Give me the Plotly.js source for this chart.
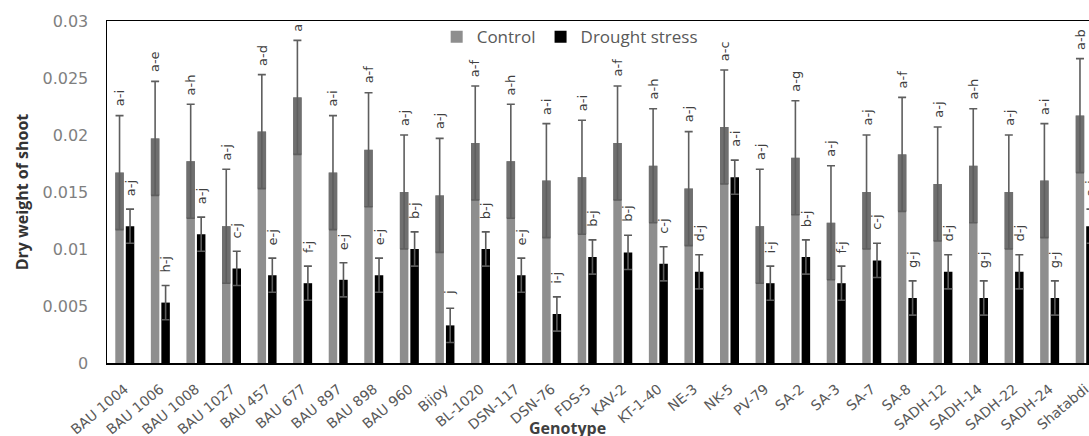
<!DOCTYPE html>
<html>
<head>
<meta charset="utf-8">
<script src="https://cdn.plot.ly/plotly-3.0.1.min.js"></script>
<style>
  html, body { margin: 0; padding: 0; overflow: hidden; background: #fff; }
  #chart { width: 1113px; height: 436px; }
</style>
</head>
<body>
<div id="chart"></div>
<script>
// Shoot dry weight of genotypes under control and drought stress
const genotypes = ["BAU 1004", "BAU 1006", "BAU 1008", "BAU 1027", "BAU 457", "BAU 677", "BAU 897",
  "BAU 898", "BAU 960", "Bijoy", "BL-1020", "DSN-117", "DSN-76", "FDS-5", "KAV-2", "KT-1-40",
  "NE-3", "NK-5", "PV-79", "SA-2", "SA-3", "SA-7", "SA-8", "SADH-12", "SADH-14", "SADH-22",
  "SADH-24", "Shatabdi"];

const controlMean = [0.0167, 0.0197, 0.0177, 0.0120, 0.0203, 0.0233, 0.0167,
  0.0187, 0.0150, 0.0147, 0.0193, 0.0177, 0.0160, 0.0163, 0.0193, 0.0173,
  0.0153, 0.0207, 0.0120, 0.0180, 0.0123, 0.0150, 0.0183, 0.0157, 0.0173, 0.0150,
  0.0160, 0.0217];
const controlErr = [0.005, 0.005, 0.005, 0.005, 0.005, 0.005, 0.005,
  0.005, 0.005, 0.005, 0.005, 0.005, 0.005, 0.005, 0.005, 0.005,
  0.005, 0.005, 0.005, 0.005, 0.005, 0.005, 0.005, 0.005, 0.005, 0.005,
  0.005, 0.005];

const droughtMean = [0.0120, 0.0053, 0.0113, 0.0083, 0.0077, 0.0070, 0.0073,
  0.0077, 0.0100, 0.0033, 0.0100, 0.0077, 0.0043, 0.0093, 0.0097, 0.0087,
  0.0080, 0.0163, 0.0070, 0.0093, 0.0070, 0.0090, 0.0057, 0.0080, 0.0057, 0.0080,
  0.0057, 0.0120];
const droughtErr = [0.0015, 0.0015, 0.0015, 0.0015, 0.0015, 0.0015, 0.0015,
  0.0015, 0.0015, 0.0015, 0.0015, 0.0015, 0.0015, 0.0015, 0.0015, 0.0015,
  0.0015, 0.0015, 0.0015, 0.0015, 0.0015, 0.0015, 0.0015, 0.0015, 0.0015, 0.0015,
  0.0015, 0.0015];

// Significance groupings
const controlLetters = ["a-i", "a-e", "a-h", "a-j", "a-d", "a", "a-i",
  "a-f", "a-j", "a-j", "a-f", "a-h", "a-i", "a-i", "a-f", "a-h",
  "a-j", "a-c", "a-j", "a-g", "a-j", "a-j", "a-f", "a-j", "a-h", "a-j",
  "a-i", "a-b"];
const droughtLetters = ["a-j", "h-j", "a-j", "c-j", "e-j", "f-j", "e-j",
  "e-j", "b-j", "j", "b-j", "e-j", "i-j", "b-j", "b-j", "c-j",
  "d-j", "a-i", "i-j", "b-j", "f-j", "c-j", "g-j", "d-j", "g-j", "d-j",
  "g-j", "a-j"];

const W = 1113, H = 436;
const M = { l: 107, r: 10, t: 21, b: 73 };
const BARGAP = 0.41, GROUPGAP = 0.19;

// lower portion of each control bar covered by the error range
const controlBandBase = controlMean.map((v, i) => v - controlErr[i]);
const controlBandSize = controlErr.slice();

const traces = [
  {
    type: "bar", name: "Control", x: genotypes, y: controlMean,
    offsetgroup: "c", marker: { color: "#8e8e8e" }, hoverinfo: "x+y"
  },
  {
    type: "bar", name: "Control range", showlegend: false, x: genotypes,
    y: controlBandSize, base: controlBandBase, offsetgroup: "c",
    marker: { color: "#6f6f6f" }, hoverinfo: "skip",
    error_y: { type: "data", array: controlErr, visible: true, color: "#5e5e5e", thickness: 1.6, width: 4 }
  },
  {
    type: "bar", name: "Drought stress", x: genotypes, y: droughtMean,
    offsetgroup: "d", marker: { color: "#000000" }, hoverinfo: "x+y",
    error_y: { type: "data", array: droughtErr, visible: true, color: "#5a5a5a", thickness: 1.6, width: 4 }
  }
];

// Letters above the error bars, centred on their own bar
const plotW = W - M.l - M.r;
const catW = plotW / genotypes.length;
const slot = (1 - BARGAP) * catW / 2;
const annotations = [];
genotypes.forEach((g, i) => {
  annotations.push({
    x: g, y: controlMean[i] + controlErr[i], xref: "x", yref: "y",
    text: controlLetters[i], showarrow: false, textangle: -90,
    xanchor: "center", yanchor: "bottom", xshift: -slot / 2, yshift: 7,
    font: { family: "DejaVu Sans", size: 13, color: "#404040" }
  });
  annotations.push({
    x: g, y: droughtMean[i] + droughtErr[i], xref: "x", yref: "y",
    text: droughtLetters[i], showarrow: false, textangle: -90,
    xanchor: "center", yanchor: "bottom", xshift: slot / 2, yshift: 11,
    font: { family: "DejaVu Sans", size: 13, color: "#404040" }
  });
});
annotations.push({
  text: "Genotype", xref: "paper", yref: "paper", x: 0.462, y: -0.19,
  xanchor: "center", yanchor: "middle", showarrow: false,
  font: { family: "Open Sans", size: 16, color: "#404040", weight: "bold" }
});

const layout = {
  width: W, height: H,
  margin: M,
  paper_bgcolor: "#fff", plot_bgcolor: "#fff",
  barmode: "group", bargap: BARGAP, bargroupgap: GROUPGAP,
  showlegend: true,
  legend: {
    orientation: "h", x: 0.331, y: 1.005, xanchor: "left", yanchor: "top",
    font: { family: "Open Sans", size: 17, color: "#595959" },
    bgcolor: "rgba(0,0,0,0)", itemwidth: 30
  },
  xaxis: {
    type: "category", showline: true, linecolor: "#000", linewidth: 1.5, mirror: true,
    ticks: "", tickangle: -40, showgrid: false, ticklabelstandoff: 11,
    tickfont: { family: "DejaVu Sans", size: 14, color: "#595959" }
  },
  yaxis: {
    range: [0, 0.03], dtick: 0.005, tick0: 0, showgrid: false, zeroline: false,
    showline: true, linecolor: "#000", linewidth: 1.5, mirror: true, ticks: "",
    ticklabelstandoff: 14,
    tickfont: { family: "DejaVu Sans", size: 16, color: "#7f7f7f" },
    title: {
      text: "Dry weight of shoot", standoff: 10,
      font: { family: "Open Sans", size: 16, color: "#333", weight: "bold" }
    }
  },
  annotations: annotations
};

Plotly.newPlot("chart", traces, layout, { displayModeBar: false, staticPlot: true });
</script>
</body>
</html>
